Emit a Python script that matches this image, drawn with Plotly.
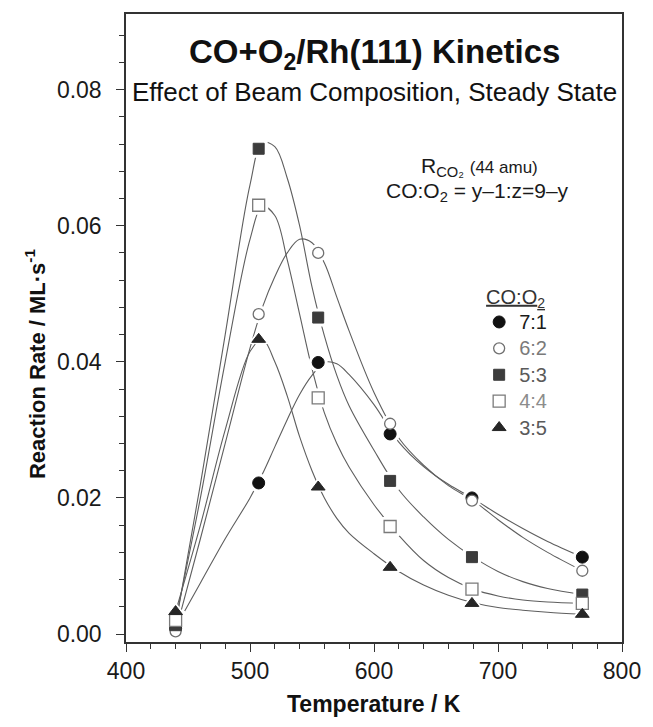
import plotly.graph_objects as go

# ---------------- data ----------------
labels = ["7:1", "6:2", "5:3", "4:4", "3:5"]

T_pts = [440, 507, 555, 613, 679, 768]
rate_71 = [0.0008, 0.0222, 0.0399, 0.0294, 0.0200, 0.0113]
rate_62 = [0.0004, 0.0470, 0.0560, 0.0309, 0.0196, 0.0093]
rate_53 = [0.0013, 0.0713, 0.0465, 0.0225, 0.0113, 0.0058]
rate_44 = [0.0020, 0.0630, 0.0347, 0.0158, 0.0066, 0.0045]
rate_35 = [0.0033, 0.0433, 0.0216, 0.0098, 0.0045, 0.0029]

# smooth fitted curves
curve_T = [440, 460, 480, 500, 510, 520, 530, 540, 550, 560, 570,
           580, 600, 620, 640, 660, 680, 700, 720, 740, 768]
curve_71 = [0.0010, 0.0075, 0.0140, 0.0200, 0.0235, 0.0275, 0.0315, 0.0352,
            0.0380, 0.0399, 0.0397, 0.0381, 0.0337, 0.0282, 0.0246, 0.0220,
            0.0199, 0.0176, 0.0155, 0.0136, 0.0113]
curve_62 = [0.0004, 0.0140, 0.0280, 0.0420, 0.0480, 0.0525, 0.0560, 0.0580,
            0.0575, 0.0545, 0.0495, 0.0445, 0.0355, 0.0288, 0.0248, 0.0218,
            0.0196, 0.0168, 0.0142, 0.0120, 0.0093]
curve_53 = [0.0013, 0.0220, 0.0440, 0.0660, 0.0722, 0.0716, 0.0670, 0.0600,
            0.0510, 0.0438, 0.0380, 0.0335, 0.0270, 0.0212, 0.0172, 0.0139,
            0.0113, 0.0092, 0.0077, 0.0067, 0.0058]
curve_44 = [0.0020, 0.0200, 0.0400, 0.0580, 0.0628, 0.0615, 0.0550, 0.0470,
            0.0390, 0.0325, 0.0280, 0.0245, 0.0190, 0.0145, 0.0108, 0.0083,
            0.0066, 0.0056, 0.0050, 0.0047, 0.0045]
curve_35 = [0.0033, 0.0160, 0.0300, 0.0415, 0.0433, 0.0400, 0.0350, 0.0290,
            0.0240, 0.0200, 0.0170, 0.0148, 0.0118, 0.0092, 0.0072, 0.0057,
            0.0046, 0.0039, 0.0035, 0.0032, 0.0029]

x_ticks = [400, 500, 600, 700, 800]
y_ticks = [0.00, 0.02, 0.04, 0.06, 0.08]

# ---------------- styling ----------------
FONT = "Liberation Sans, Arial, Helvetica, sans-serif"
rates = [rate_71, rate_62, rate_53, rate_44, rate_35]
curves = [curve_71, curve_62, curve_53, curve_44, curve_35]
markers = [
    dict(symbol="circle", size=12, color="#111111", line=dict(color="#111111", width=1)),
    dict(symbol="circle", size=11, color="white", line=dict(color="#707070", width=1.3)),
    dict(symbol="square", size=11, color="#3c3c3c", line=dict(color="#3c3c3c", width=1)),
    dict(symbol="square", size=12, color="white", line=dict(color="#7a7a7a", width=1.3)),
    dict(symbol="triangle-up", size=12, color="#262626", line=dict(color="#262626", width=1)),
]
name_colors = ["#1a1a1a", "#7a7a7a", "#5a5a5a", "#8c8c8c", "#5a5a5a"]

fig = go.Figure()

# fitted curves
for c in curves:
    fig.add_trace(go.Scatter(x=curve_T, y=c, mode="lines", line_shape="spline",
                             line=dict(color="#5e5e5e", width=1.1),
                             showlegend=False, hoverinfo="skip"))
# white halos (gaps in the curves round the markers)
for r, m in zip(rates, markers):
    fig.add_trace(go.Scatter(x=T_pts, y=r, mode="markers",
                             marker=dict(symbol=m["symbol"], size=m["size"] + 7,
                                         color="white", line=dict(width=0)),
                             showlegend=False, hoverinfo="skip"))
# data markers
for lab, r, m, nc in zip(labels, rates, markers, name_colors):
    fig.add_trace(go.Scatter(
        x=T_pts, y=r, mode="markers", marker=m,
        name=f'<span style="color:{nc};font-size:20px">{lab}</span>'))

axis_common = dict(showline=True, linecolor="#333333", linewidth=1.5, mirror=True,
                   ticks="outside", ticklen=8, tickwidth=1.2, tickcolor="#333333",
                   showgrid=False, zeroline=False,
                   tickfont=dict(family=FONT, size=23, color="#1a1a1a"))

fig.update_xaxes(range=[400, 800], tickvals=x_ticks, ticktext=[str(v) for v in x_ticks],
                 minor=dict(dtick=20, ticks="outside", ticklen=5, tickcolor="#333333",
                            tickwidth=1, showgrid=False),
                 **axis_common)
fig.update_yaxes(range=[-0.00117, 0.0911], tickvals=y_ticks,
                 ticktext=[f"{v:.2f}" for v in y_ticks],
                 minor=dict(dtick=0.004, tick0=0, ticks="outside", ticklen=5,
                            tickcolor="#333333", tickwidth=1, showgrid=False),
                 ticklabelstandoff=10,
                 **axis_common)

fig.update_layout(
    width=653, height=727,
    margin=dict(l=126, r=20, t=12, b=85),
    paper_bgcolor="white", plot_bgcolor="white",
    font=dict(family=FONT, color="#1a1a1a"),
    legend=dict(x=0.712, y=0.58, xanchor="left", yanchor="top",
                bgcolor="rgba(0,0,0,0)", borderwidth=0,
                font=dict(family=FONT, size=18),
                title=dict(text="<u>CO:O<sub>2</sub></u>", side="top center",
                           font=dict(family=FONT, size=20, color="#333333")),
                tracegroupgap=0),
    annotations=[
        dict(text="<b>CO+O<sub>2</sub>/Rh(111) Kinetics</b>", xref="paper", yref="paper",
             x=0.5, y=0.937, xanchor="center", yanchor="middle", showarrow=False,
             font=dict(family=FONT, size=33, color="#111111")),
        dict(text="Effect of Beam Composition, Steady State", xref="paper", yref="paper",
             x=0.5, y=0.876, xanchor="center", yanchor="middle", showarrow=False,
             font=dict(family=FONT, size=26, color="#111111")),
        dict(text='R<sub>CO₂</sub> <span style="font-size:17px">(44 amu)</span>',
             xref="paper", yref="paper", x=0.712, y=0.756, xanchor="center",
             yanchor="middle", showarrow=False,
             font=dict(family=FONT, size=21, color="#1a1a1a")),
        dict(text="CO:O<sub>2</sub> = y–1:z=9–y", xref="paper", yref="paper",
             x=0.708, y=0.717, xanchor="center", yanchor="middle", showarrow=False,
             font=dict(family=FONT, size=21, color="#1a1a1a")),
        # axis titles
        dict(text="<b>Temperature / K</b>", xref="paper", yref="paper",
             x=0.5, y=-0.098, xanchor="center", yanchor="middle", showarrow=False,
             font=dict(family=FONT, size=23, color="#111111")),
        dict(text="<b>Reaction Rate / ML·s<sup>-1</sup></b>", xref="paper", yref="paper",
             x=-0.183, y=0.443, xanchor="center", yanchor="middle", showarrow=False,
             textangle=-90, font=dict(family=FONT, size=22, color="#111111")),
    ],
)

fig.write_html("out.html", config={"displayModeBar": False},
               post_script="document.body.style.margin='0px';"
                           "document.body.style.overflow='hidden';")
